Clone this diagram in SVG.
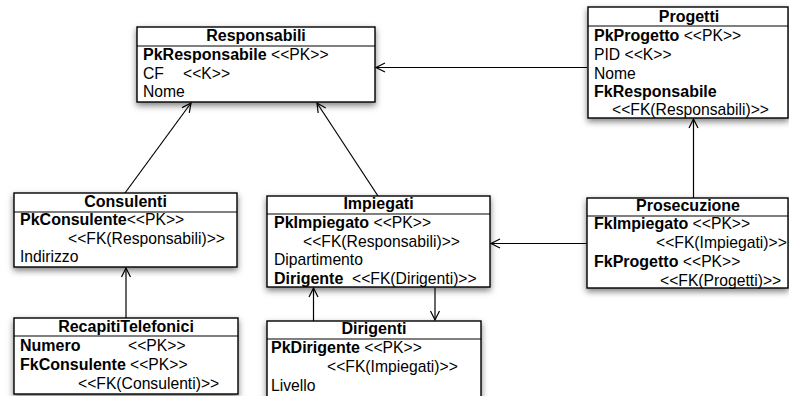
<svg xmlns="http://www.w3.org/2000/svg" width="789" height="396" viewBox="0 0 789 396">
<defs>
<filter id="sh" x="-10%" y="-10%" width="125%" height="140%">
<feDropShadow dx="0" dy="3" stdDeviation="3" flood-color="#000" flood-opacity="0.5"/>
</filter>
<marker id="arr" markerWidth="12" markerHeight="12" refX="10" refY="6" orient="auto" markerUnits="userSpaceOnUse">
<path d="M1,1.5 L10,6 L1,10.5" fill="none" stroke="#000" stroke-width="1.2"/>
</marker>
<style>
.box{fill:#fff;stroke:#000;stroke-width:1.4;filter:url(#sh)}
.sep{stroke:#000;stroke-width:1.2}
text{font-family:"Liberation Sans",Arial,Helvetica,sans-serif;font-size:15.7px;fill:#000}
.t{font-weight:bold;font-size:16px;text-anchor:middle}
.b{font-weight:bold;font-size:16px}
.c{fill:none;stroke:#000;stroke-width:1.2;marker-end:url(#arr)}
</style>
</defs>
<g id="connectors">
<line class="c" x1="587" y1="67.5" x2="376" y2="67.5"/>
<line class="c" x1="125" y1="193" x2="191" y2="103"/>
<line class="c" x1="378" y1="196" x2="317" y2="103"/>
<line class="c" x1="587" y1="243.5" x2="491" y2="243.5"/>
<line class="c" x1="693.5" y1="198" x2="693.5" y2="119"/>
<line class="c" x1="126" y1="318" x2="126" y2="268"/>
<line class="c" x1="313.5" y1="321" x2="313.5" y2="288"/>
<line class="c" x1="435" y1="288" x2="435" y2="320"/>
</g>
<g id="Responsabili">
<rect class="box" x="137" y="27" width="238" height="75"/>
<line class="sep" x1="137" y1="46" x2="375" y2="46"/>
<text class="t" x="256" y="41">Responsabili</text>
<text x="143" y="60"><tspan class="b">PkResponsabile</tspan> &lt;&lt;PK&gt;&gt;</text>
<text x="143" y="79">CF</text>
<text x="183" y="79">&lt;&lt;K&gt;&gt;</text>
<text x="143" y="97">Nome</text>
</g>
<g id="Progetti">
<rect class="box" x="588" y="7" width="200" height="111"/>
<line class="sep" x1="588" y1="26" x2="788" y2="26"/>
<text class="t" x="689" y="22">Progetti</text>
<text x="594" y="41"><tspan class="b">PkProgetto</tspan> &lt;&lt;PK&gt;&gt;</text>
<text x="594" y="60">PID &lt;&lt;K&gt;&gt;</text>
<text x="594" y="79">Nome</text>
<text x="594" y="97" class="b">FkResponsabile</text>
<text x="612" y="115">&lt;&lt;FK(Responsabili)&gt;&gt;</text>
</g>
<g id="Consulenti">
<rect class="box" x="14" y="193" width="223" height="74"/>
<line class="sep" x1="14" y1="212" x2="237" y2="212"/>
<text class="t" x="125.5" y="207">Consulenti</text>
<text x="20" y="225"><tspan class="b">PkConsulente</tspan>&lt;&lt;PK&gt;&gt;</text>
<text x="68" y="244">&lt;&lt;FK(Responsabili)&gt;&gt;</text>
<text x="20" y="262">Indirizzo</text>
</g>
<g id="Impiegati">
<rect class="box" x="267" y="196" width="223" height="91"/>
<line class="sep" x1="267" y1="214" x2="490" y2="214"/>
<text class="t" x="378.5" y="209">Impiegati</text>
<text x="274" y="228"><tspan class="b">PkImpiegato</tspan> &lt;&lt;PK&gt;&gt;</text>
<text x="303" y="247">&lt;&lt;FK(Responsabili)&gt;&gt;</text>
<text x="274" y="265">Dipartimento</text>
<text x="274" y="284" class="b">Dirigente</text>
<text x="352" y="284">&lt;&lt;FK(Dirigenti)&gt;&gt;</text>
</g>
<g id="Prosecuzione">
<rect class="box" x="587" y="198" width="201" height="90"/>
<line class="sep" x1="587" y1="216" x2="788" y2="216"/>
<text class="t" x="688" y="211">Prosecuzione</text>
<text x="594" y="229"><tspan class="b">FkImpiegato</tspan> &lt;&lt;PK&gt;&gt;</text>
<text x="656" y="248">&lt;&lt;FK(Impiegati)&gt;&gt;</text>
<text x="594" y="267"><tspan class="b">FkProgetto</tspan> &lt;&lt;PK&gt;&gt;</text>
<text x="660" y="286">&lt;&lt;FK(Progetti)&gt;&gt;</text>
</g>
<g id="RecapitiTelefonici">
<rect class="box" x="14" y="318" width="224" height="76"/>
<line class="sep" x1="14" y1="336" x2="238" y2="336"/>
<text class="t" x="126" y="332">RecapitiTelefonici</text>
<text x="20" y="351" class="b">Numero</text>
<text x="128" y="351">&lt;&lt;PK&gt;&gt;</text>
<text x="20" y="370" class="b">FkConsulente</text>
<text x="130" y="370">&lt;&lt;PK&gt;&gt;</text>
<text x="78" y="389">&lt;&lt;FK(Consulenti)&gt;&gt;</text>
</g>
<g id="Dirigenti">
<rect class="box" x="267" y="321" width="214" height="85"/>
<line class="sep" x1="267" y1="339" x2="481" y2="339"/>
<text class="t" x="374" y="334">Dirigenti</text>
<text x="271" y="353"><tspan class="b">PkDirigente</tspan> &lt;&lt;PK&gt;&gt;</text>
<text x="327" y="372">&lt;&lt;FK(Impiegati)&gt;&gt;</text>
<text x="271" y="391">Livello</text>
</g>
</svg>
